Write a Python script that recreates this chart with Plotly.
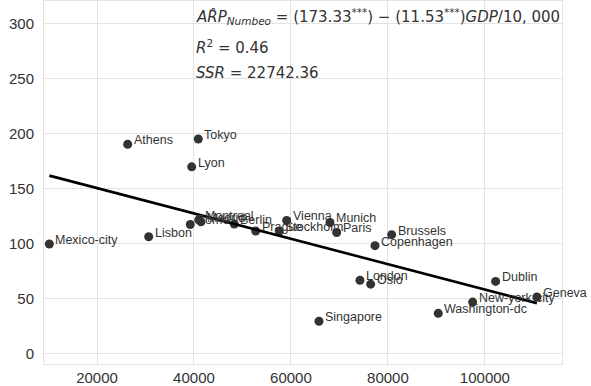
import numpy as np
import plotly.graph_objects as go

# City-level data: GDP per capita vs. Numbeo ARP index
cities = ["Mexico-city", "Lisbon", "Athens", "Tokyo", "Lyon", "Rome", "Madrid",
          "Montreal", "Berlin", "Prague", "Stockholm", "Vienna", "Munich", "Paris",
          "Brussels", "Copenhagen", "London", "Oslo", "Singapore", "Washington-dc",
          "New-york-city", "Dublin", "Geneva"]
gdp = [10170, 30660, 26330, 40890, 39530, 39240, 41450,
       40970, 48310, 52730, 57590, 59120, 68050, 69430,
       80770, 77330, 74230, 76440, 65780, 90380,
       97470, 102210, 110730]
arp = [99.4, 106.0, 190.1, 194.9, 169.6, 117.2, 119.6,
       121.4, 117.5, 111.2, 111.2, 120.8, 119.0, 109.9,
       107.9, 97.9, 66.5, 62.9, 29.2, 36.4,
       46.6, 65.4, 51.2]

# OLS fit reported in the annotation
intercept = 173.33
slope_per_10k = 11.53
r_squared = 0.46
ssr = 22742.36

x_ticks = [20000, 40000, 60000, 80000, 100000]
y_ticks = [0, 50, 100, 150, 200, 250, 300]

fit_x = np.array([min(gdp), max(gdp)])
fit_y = intercept - slope_per_10k * fit_x / 10000

fig = go.Figure()
fig.add_trace(go.Scatter(
    x=gdp, y=arp, mode="markers",
    marker=dict(color="#333333", size=9, line=dict(width=0)),
    showlegend=False, hoverinfo="text", text=cities,
))
fig.add_trace(go.Scatter(
    x=fit_x, y=fit_y, mode="lines",
    line=dict(color="black", width=2.6),
    showlegend=False,
))

annotations = []
for name, xv, yv in zip(cities, gdp, arp):
    annotations.append(dict(
        x=xv, y=yv, xref="x", yref="y", text=name, showarrow=False,
        xanchor="left", yanchor="middle", xshift=4, yshift=4,
        font=dict(family="Liberation Sans, Arial", size=12.5, color="#333333"),
    ))

eq_font = dict(family="DejaVu Sans", size=15, color="#333333")
annotations += [
    dict(x=194, y=16, showarrow=False,
         text="<i>AR\u0302P</i><sub><i>Numbeo</i></sub> = (173.33<sup>***</sup>) \u2212 (11.53<sup>***</sup>)<i>GDP</i>/10, 000",
         xanchor="left", yanchor="middle", font=eq_font),
    dict(x=194, y=46, showarrow=False,
         text=f"<i>R</i><sup>2</sup> = {r_squared:.2f}",
         xanchor="left", yanchor="middle", font=eq_font),
    dict(x=194, y=72, showarrow=False,
         text=f"<i>SSR</i> = {ssr:.2f}",
         xanchor="left", yanchor="middle", font=eq_font),
]

# equation block positioned in pixels relative to the page
W, H = 591, 386
ml, mr, mt, mb = 44, 29, 0, 21
pw, ph = W - ml - mr, H - mt - mb
for a in annotations[-3:]:
    px, py = a["x"], a["y"]
    a["x"] = (px - ml) / pw
    a["y"] = 1 - (py - mt) / ph
    a["xref"] = "paper"
    a["yref"] = "paper"

fig.update_layout(
    width=W, height=H,
    margin=dict(l=ml, r=mr, t=mt, b=mb, pad=0),
    paper_bgcolor="white", plot_bgcolor="white",
    annotations=annotations,
    font=dict(family="Liberation Sans, Arial", color="#333333"),
)
fig.update_xaxes(
    range=[9070, 115900], tickvals=x_ticks, ticktext=[str(v) for v in x_ticks],
    showgrid=True, gridcolor="#e3e3e3", gridwidth=1, zeroline=False,
    showline=True, linecolor="#e3e3e3", linewidth=1, mirror=True,
    ticks="", tickfont=dict(size=15, color="#333333"),
)
fig.update_yaxes(
    range=[-9.7, 320.4], tickvals=y_ticks, ticktext=[str(v) for v in y_ticks],
    showgrid=True, gridcolor="#e3e3e3", gridwidth=1, zeroline=False,
    showline=True, linecolor="#e3e3e3", linewidth=1, mirror=True,
    ticks="", tickfont=dict(size=15, color="#333333"), ticklabelstandoff=6,
)

fig.write_html("out.html")
